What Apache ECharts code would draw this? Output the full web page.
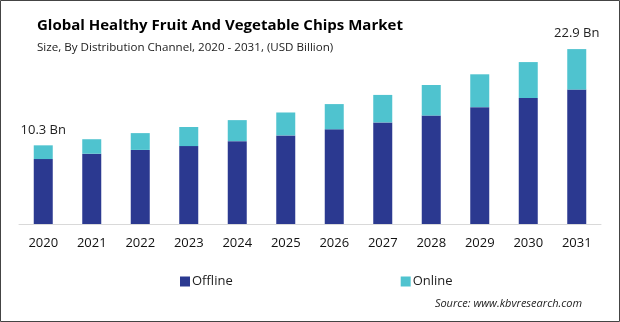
<!DOCTYPE html>
<html><head><meta charset="utf-8">
<script src="https://cdn.jsdelivr.net/npm/echarts@6/dist/echarts.min.js"></script>
<style>html,body{margin:0;padding:0;background:#fff}#c{width:620px;height:322px}</style>
</head><body><div id="c"></div>
<script>
const years = ['2020','2021','2022','2023','2024','2025','2026','2027','2028','2029','2030','2031'];
const offline = [8.5, 9.2, 9.7, 10.2, 10.85, 11.6, 12.4, 13.3, 14.2, 15.3, 16.5, 17.6];
const online  = [1.8, 1.9, 2.2, 2.5, 2.75, 3.0, 3.3, 3.6, 4.0, 4.3, 4.7, 5.3];
const labels = {0: '10.3 Bn', 11: '22.9 Bn'};
const font = '"Open Sans", sans-serif';
const chart = echarts.init(document.getElementById('c'), null, {renderer: 'canvas'});
chart.setOption({
  animation: false,
  title: [
    {text: 'Global Healthy Fruit And Vegetable Chips Market', left: 32, top: 13,
     textStyle: {fontFamily: font, fontSize: 15, fontWeight: 'bold', color: '#000'}},
    {text: 'Size, By Distribution Channel, 2020 - 2031, (USD Billion)', left: 32, top: 37,
     textStyle: {fontFamily: font, fontSize: 11.6, fontWeight: 'normal', color: '#222'}},
    {text: 'Source: www.kbvresearch.com', right: 33, top: 293,
     textStyle: {fontFamily: font, fontSize: 11, fontStyle: 'italic', fontWeight: 'normal', color: '#222'}}
  ],
  legend: {
    data: ['Offline', 'Online'], top: 270, left: 175, itemGap: 168,
    itemWidth: 10, itemHeight: 10, icon: 'rect',
    textStyle: {fontFamily: font, fontSize: 13, color: '#222', padding: [0,0,0,-3]}
  },
  grid: {left: 19, right: 19, top: 30, bottom: 98},
  xAxis: {
    type: 'category', data: years,
    axisLine: {lineStyle: {color: '#d9d9d9', width: 1}},
    axisTick: {show: false},
    axisLabel: {fontFamily: font, fontSize: 13, color: '#111', margin: 13}
  },
  yAxis: {type: 'value', min: 0, max: 25.4, show: false, splitLine: {show: false}},
  series: [
    {name: 'Offline', type: 'bar', stack: 't', data: offline, barWidth: 19,
     itemStyle: {color: '#2b3990'}},
    {name: 'Online', type: 'bar', stack: 't', data: online, barWidth: 19,
     itemStyle: {color: '#4fc3cf'},
     label: {show: true, position: 'top', distance: 9,
       fontFamily: font, fontSize: 13, color: '#222',
       formatter: p => labels[p.dataIndex] || ''}}
  ],
  graphic: [{type: 'rect', shape: {x: 0.5, y: 0.5, width: 619, height: 321},
    style: {fill: 'none', stroke: '#444', lineWidth: 1}, silent: true}]
});
</script></body></html>
